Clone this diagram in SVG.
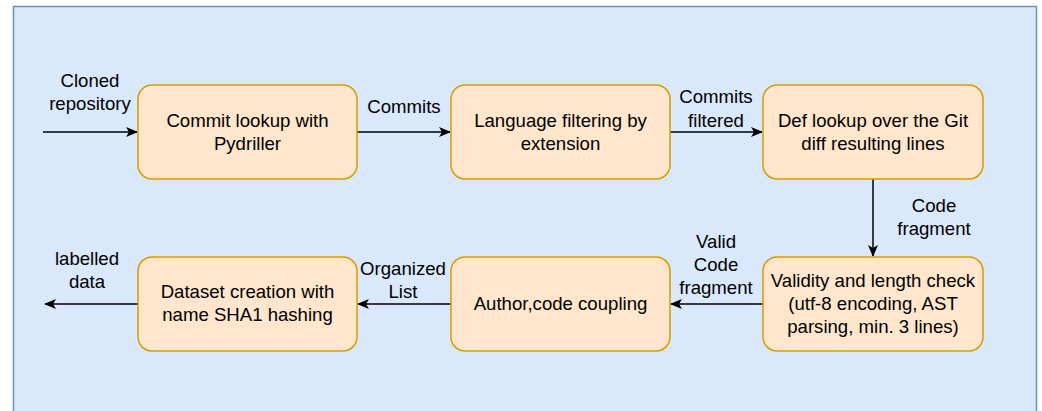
<svg xmlns="http://www.w3.org/2000/svg" width="1042" height="411" viewBox="0 0 1042 411">
<defs>
<marker id="arr" viewBox="0 0 12 10" refX="11" refY="5" markerWidth="12" markerHeight="10" markerUnits="userSpaceOnUse" orient="auto">
<path d="M0,0 L12,5 L0,10 L3,5 Z" fill="#000"/>
</marker>
<style>
.node rect{fill:#ffe6cc;stroke:#d79b00;stroke-width:1.5}
text{font-family:"Liberation Sans",Arial,sans-serif;font-size:18.6px;fill:#000;text-anchor:middle}
.edge{stroke:#000;stroke-width:1.5;fill:none;marker-end:url(#arr)}
</style>
</defs>
<rect x="0" y="0" width="1042" height="411" fill="#ffffff"/>
<rect x="13.5" y="6.5" width="1023" height="430" fill="#dae8fc" stroke="#6c8ebf" stroke-width="1.5"/>
<g id="connectors">
<line class="edge" x1="43" y1="132" x2="137" y2="132"/>
<line class="edge" x1="357" y1="132" x2="450" y2="132"/>
<line class="edge" x1="670" y1="132" x2="762" y2="132"/>
<line class="edge" x1="873" y1="179" x2="873" y2="256"/>
<line class="edge" x1="763" y1="304" x2="671" y2="304"/>
<line class="edge" x1="451" y1="304" x2="358" y2="304"/>
<line class="edge" x1="138" y1="304" x2="45" y2="304"/>
<text x="90" y="87">Cloned</text><text x="90" y="110">repository</text>
<text x="404" y="113">Commits</text>
<text x="716" y="103">Commits</text><text x="716" y="127">filtered</text>
<text x="934" y="212">Code</text><text x="934" y="235">fragment</text>
<text x="716" y="248">Valid</text><text x="716" y="271">Code</text><text x="716" y="294">fragment</text>
<text x="403" y="275">Organized</text><text x="403" y="298">List</text>
<text x="87" y="265">labelled</text><text x="87" y="288">data</text>
</g>
<g id="n1" class="node"><rect x="138" y="85" width="219" height="94" rx="14"/><text x="247.5" y="127">Commit lookup with</text><text x="247.5" y="150">Pydriller</text></g>
<g id="n2" class="node"><rect x="451" y="85" width="219" height="94" rx="14"/><text x="560.5" y="127">Language filtering by</text><text x="560.5" y="150">extension</text></g>
<g id="n3" class="node"><rect x="763" y="85" width="220" height="94" rx="14"/><text x="873" y="127">Def lookup over the Git</text><text x="873" y="150">diff resulting lines</text></g>
<g id="n4" class="node"><rect x="763" y="257" width="220" height="94" rx="14"/><text x="873" y="287">Validity and length check</text><text x="873" y="310">(utf-8 encoding, AST</text><text x="873" y="333">parsing, min. 3 lines)</text></g>
<g id="n5" class="node"><rect x="451" y="257" width="219" height="94" rx="14"/><text x="560.5" y="310">Author,code coupling</text></g>
<g id="n6" class="node"><rect x="138" y="257" width="219" height="94" rx="14"/><text x="247.5" y="298">Dataset creation with</text><text x="247.5" y="321">name SHA1 hashing</text></g>
</svg>
